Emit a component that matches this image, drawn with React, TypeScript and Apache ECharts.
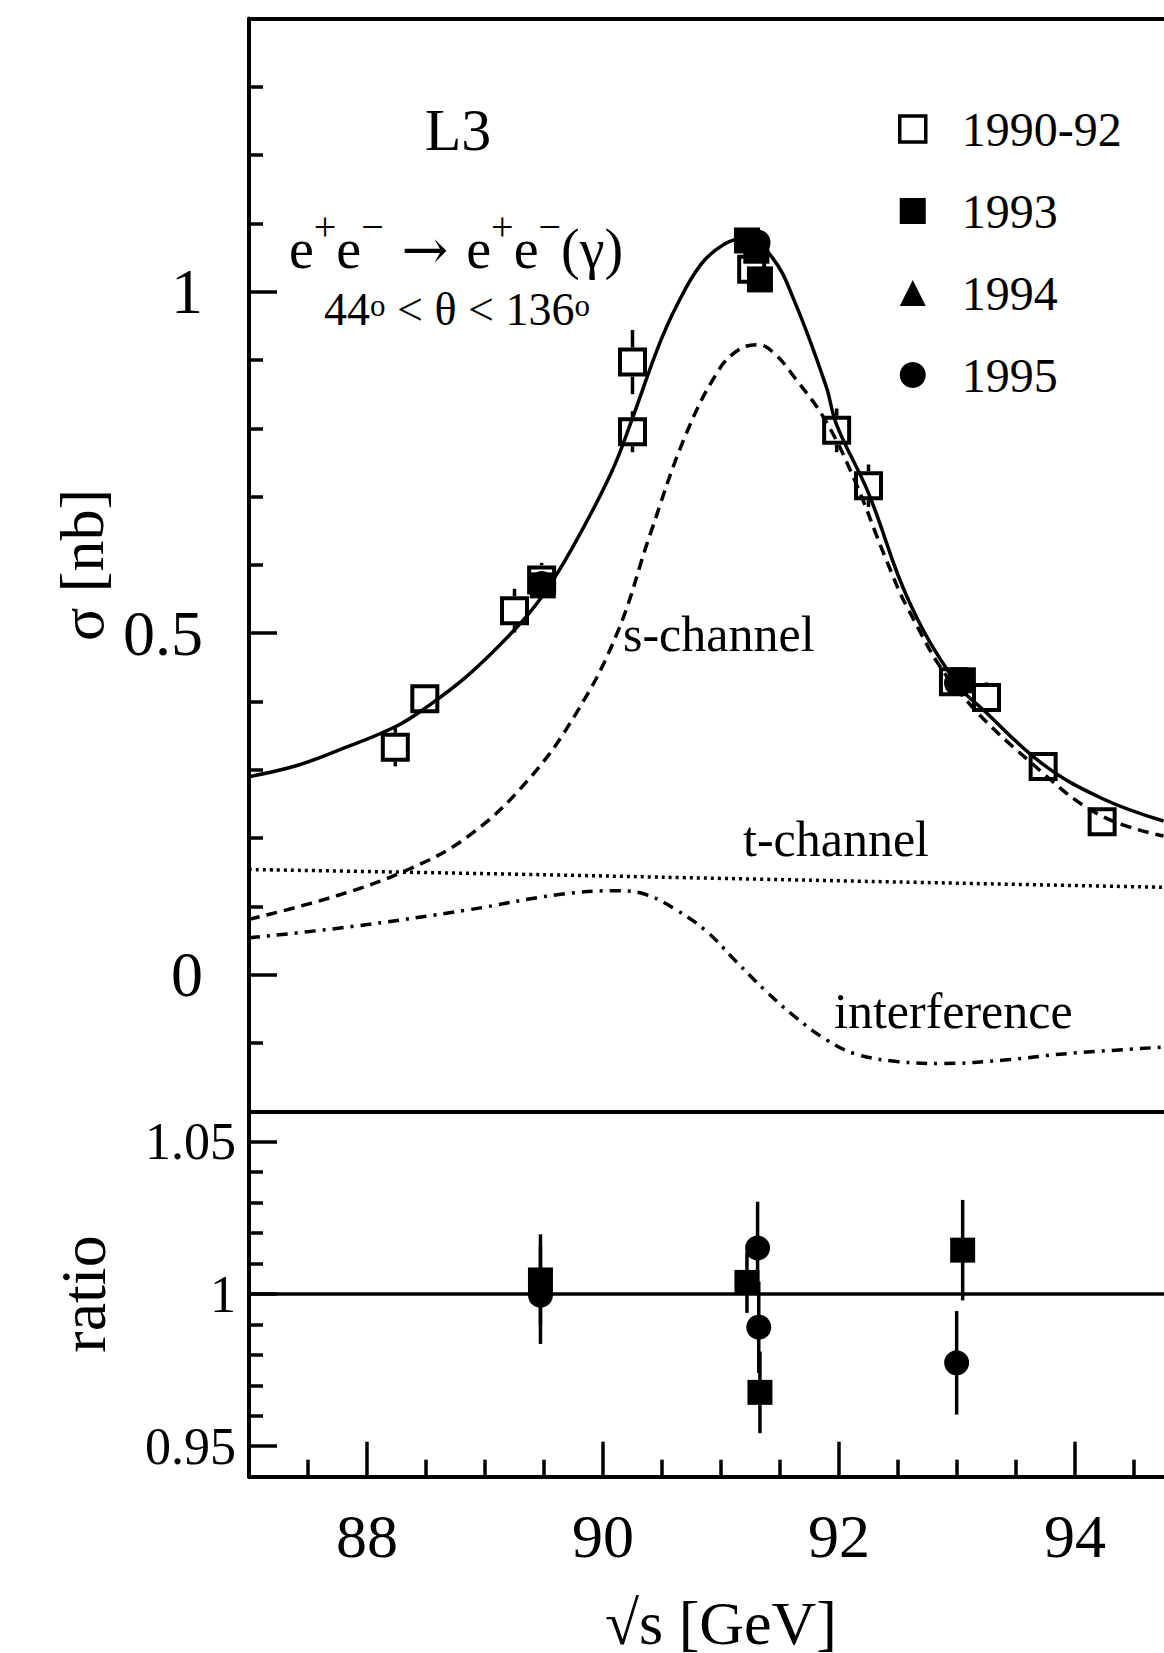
import React, { useEffect, useRef } from "react";
import * as echarts from "echarts";

const FONT = "'Liberation Serif', 'Times New Roman', 'DejaVu Serif', serif";

const xRange = [87, 95];
const sigmaRange = [-0.2, 1.4];
const ratioRange = [0.94, 1.06];

const xMajorTicks = [88, 90, 92, 94];
const xMinorTicks = [87.5, 88.5, 89, 89.5, 90.5, 91, 91.5, 92.5, 93, 93.5, 94.5];
const sigmaMajorTicks = [0, 0.5, 1];
const sigmaMinorTicks = [-0.1, 0.1, 0.2, 0.3, 0.4, 0.6, 0.7, 0.8, 0.9, 1.1, 1.2, 1.3];
const ratioMajorTicks = [0.95, 1, 1.05];
const ratioMinorTicks = [0.96, 0.97, 0.98, 0.99, 1.01, 1.02, 1.03, 1.04];

// theory curves: [sqrt(s) GeV, sigma nb]
const totalFit = [
  [87.0, 0.29], [87.4, 0.306], [87.75, 0.328], [88.24, 0.363], [88.49, 0.39],
  [88.86, 0.439], [89.25, 0.505], [89.48, 0.553], [89.74, 0.625], [90.07, 0.735],
  [90.25, 0.815], [90.47, 0.92], [90.62, 0.978], [90.83, 1.04], [91.03, 1.07],
  [91.2, 1.078], [91.43, 1.051], [91.63, 0.983], [91.89, 0.862], [91.98, 0.805],
  [92.25, 0.705], [92.59, 0.548], [92.99, 0.428], [93.24, 0.385], [93.73, 0.308],
  [94.23, 0.258], [94.75, 0.225],
];
const sChannel = [
  [87.0, 0.081], [87.75, 0.116], [88.35, 0.154], [88.86, 0.203], [89.36, 0.284],
  [89.77, 0.382], [90.12, 0.5], [90.4, 0.645], [90.7, 0.79], [90.98, 0.885],
  [91.15, 0.915], [91.31, 0.9225], [91.45, 0.91], [91.63, 0.873], [91.89, 0.81],
  [92.14, 0.721], [92.39, 0.612], [92.59, 0.534], [92.99, 0.42], [93.73, 0.295],
  [94.23, 0.232], [94.75, 0.203],
];
const tChannel = [
  [87.0, 0.154], [89.0, 0.148], [91.0, 0.141], [93.0, 0.134], [94.75, 0.128],
];
const interference = [
  [87.0, 0.054], [87.85, 0.07], [88.86, 0.095], [89.61, 0.117], [90.12, 0.123],
  [90.37, 0.117], [90.62, 0.095], [90.88, 0.063], [91.13, 0.019], [91.38, -0.024],
  [91.63, -0.062], [91.89, -0.095], [92.14, -0.116], [92.49, -0.127], [92.89, -0.13],
  [93.4, -0.125], [93.9, -0.116], [94.75, -0.106],
];

// measurements: [sqrt(s), sigma, error]
const data1990_92 = [
  [88.24, 0.333, 0.028], [88.49, 0.404, 0.012], [89.25, 0.533, 0.032],
  [89.48, 0.578, 0.025], [90.25, 0.897, 0.047], [90.25, 0.795, 0.03],
  [91.26, 1.033, 0.012], [91.98, 0.797, 0.032], [92.25, 0.716, 0.031],
  [92.97, 0.429, 0.01], [93.25, 0.406, 0.022], [93.73, 0.305, 0.01],
  [94.23, 0.224, 0.01],
];
const data1993 = [
  [89.49, 0.57, 0.01], [91.22, 1.075, 0.01], [91.3, 1.06, 0.01],
  [91.33, 1.018, 0.01], [93.05, 0.431, 0.01],
];
const data1994 = [[91.29, 1.06, 0.008]];
const data1995 = [[89.48, 0.572, 0.01], [91.31, 1.072, 0.01], [93.0, 0.427, 0.01]];

// ratio panel: [sqrt(s), ratio, error]
const ratio1993 = [
  [89.47, 1.0046, 0.015], [91.22, 1.0038, 0.01], [91.33, 0.9677, 0.0134], [93.048, 1.0144, 0.0165],
];
const ratio1995 = [
  [89.47, 0.9996, 0.016], [91.31, 1.0151, 0.0152], [91.32, 0.9891, 0.015], [92.997, 0.9774, 0.017],
];

const legendNames = ["1990-92", "1993", "1994", "1995"];

const BLACK = "#000";

function errorBars(data: number[][], xi: number, yi: number, gap: number) {
  return {
    type: "custom",
    xAxisIndex: xi,
    yAxisIndex: yi,
    data,
    silent: true,
    z: 3,
    encode: { x: 0, y: 1 },
    renderItem: (_params: any, api: any) => {
      const x = api.value(0);
      const y = api.value(1);
      const e = api.value(2);
      const c = api.coord([x, y]);
      const top = api.coord([x, y + e]);
      const bot = api.coord([x, y - e]);
      const style = { stroke: BLACK, lineWidth: 3.5 };
      const children: any[] = [];
      if (c[1] - gap > top[1]) {
        children.push({ type: "line", shape: { x1: c[0], y1: top[1], x2: c[0], y2: c[1] - gap }, style });
      }
      if (bot[1] > c[1] + gap) {
        children.push({ type: "line", shape: { x1: c[0], y1: c[1] + gap, x2: c[0], y2: bot[1] }, style });
      }
      return { type: "group", children };
    },
  };
}

function curve(data: number[][], type: any, width: number) {
  return {
    type: "line",
    xAxisIndex: 0,
    yAxisIndex: 0,
    data,
    showSymbol: false,
    symbol: "none",
    smooth: 0.4,
    silent: true,
    z: 2,
    lineStyle: { color: BLACK, width, type },
  };
}

const axisLine = { show: true, onZero: false, lineStyle: { color: BLACK, width: 4 } };

const textCenter = { align: "center", verticalAlign: "middle", textAlign: "center", textVerticalAlign: "middle" };
const textLeft = { align: "left", verticalAlign: "middle", textAlign: "left", textVerticalAlign: "middle" };

function App() {
  const ref = useRef<HTMLDivElement>(null);
  useEffect(() => {
    if (!ref.current) return;
    const chart = echarts.init(ref.current, null, { renderer: "svg" });
    const baseX = {
      type: "value",
      min: xRange[0],
      max: xRange[1],
      splitLine: { show: false },
      axisLabel: { show: false },
      axisTick: { show: false },
    };
    const option: any = {
      animation: false,
      backgroundColor: "#fff",
      grid: [
        { left: 249, top: 18.5, right: -29, height: 1092.8, outerBoundsMode: "none", containLabel: false },
        { left: 249, top: 1111.3, right: -29, height: 365.4, outerBoundsMode: "none", containLabel: false },
      ],
      xAxis: [
        { ...baseX, gridIndex: 0, position: "bottom", axisLine },
        { ...baseX, gridIndex: 0, position: "top", axisLine },
        {
          ...baseX,
          gridIndex: 1,
          position: "bottom",
          axisLine,
          axisTick: { show: true, inside: true, length: 35, lineStyle: { color: BLACK, width: 3.5 }, customValues: xMajorTicks },
          axisLabel: { show: true, customValues: xMajorTicks, fontSize: 62, fontFamily: FONT, color: BLACK, margin: 28 },
          name: "√s [GeV]",
          nameLocation: "middle",
          nameGap: 115,
          nameMoveOverlap: false,
          nameTextStyle: { fontSize: 62, fontFamily: FONT, color: BLACK },
        },
        {
          ...baseX,
          gridIndex: 1,
          position: "bottom",
          axisLine: { show: false, onZero: false },
          axisTick: { show: true, inside: true, length: 17, lineStyle: { color: BLACK, width: 3.5 }, customValues: xMinorTicks },
        },
      ],
      yAxis: [
        {
          type: "value",
          gridIndex: 0,
          min: sigmaRange[0],
          max: sigmaRange[1],
          position: "left",
          axisLine,
          splitLine: { show: false },
          axisTick: { show: true, inside: true, length: 28, lineStyle: { color: BLACK, width: 3.5 }, customValues: sigmaMajorTicks },
          axisLabel: { show: true, customValues: sigmaMajorTicks, fontSize: 64, fontFamily: FONT, color: BLACK, margin: 46 },
        },
        {
          type: "value",
          gridIndex: 0,
          min: sigmaRange[0],
          max: sigmaRange[1],
          position: "left",
          axisLine: { show: false, onZero: false },
          splitLine: { show: false },
          axisLabel: { show: false },
          axisTick: { show: true, inside: true, length: 14, lineStyle: { color: BLACK, width: 3.5 }, customValues: sigmaMinorTicks },
        },
        {
          type: "value",
          gridIndex: 1,
          min: ratioRange[0],
          max: ratioRange[1],
          position: "left",
          axisLine,
          splitLine: { show: false },
          axisTick: { show: true, inside: true, length: 28, lineStyle: { color: BLACK, width: 3.5 }, customValues: ratioMajorTicks },
          axisLabel: { show: true, customValues: ratioMajorTicks, fontSize: 52, fontFamily: FONT, color: BLACK, margin: 13 },
        },
        {
          type: "value",
          gridIndex: 1,
          min: ratioRange[0],
          max: ratioRange[1],
          position: "left",
          axisLine: { show: false, onZero: false },
          splitLine: { show: false },
          axisLabel: { show: false },
          axisTick: { show: true, inside: true, length: 14, lineStyle: { color: BLACK, width: 3.5 }, customValues: ratioMinorTicks },
        },
      ],
      legend: {
        orient: "vertical",
        left: 898,
        top: 104,
        padding: 0,
        itemGap: 32,
        itemWidth: 26,
        itemHeight: 26,
        selectedMode: false,
        textStyle: { fontSize: 48, fontFamily: FONT, color: BLACK, lineHeight: 50, padding: [0, 0, 0, 31] },
        data: [
          { name: legendNames[0], icon: "rect", itemStyle: { color: "rgba(0,0,0,0)", borderColor: BLACK, borderWidth: 3.5 } },
          { name: legendNames[1], icon: "rect", itemStyle: { color: BLACK, borderWidth: 0 } },
          { name: legendNames[2], icon: "triangle", itemStyle: { color: BLACK, borderWidth: 0 } },
          { name: legendNames[3], icon: "circle", itemStyle: { color: BLACK, borderWidth: 0 } },
        ],
      },
      graphic: [
        { type: "text", x: 458, y: 130, style: { text: "L3", fontSize: 60, fontFamily: FONT, fill: BLACK, ...textCenter } },
        {
          type: "text",
          x: 456,
          y: 249,
          style: {
            text: "{m|e}{s|+}{m|e}{s|−}{a| → }{m|e}{s|+}{m|e}{s|−}{m|(γ)}",
            ...textCenter,
            fill: BLACK,
            rich: {
              m: { fontSize: 56, fontFamily: FONT, fill: BLACK, lineHeight: 86 },
              a: { fontSize: 56, fontFamily: "'DejaVu Serif', serif", fill: BLACK },
              s: { fontSize: 40, fontFamily: FONT, fill: BLACK, lineHeight: 40, verticalAlign: "top" },
            },
          },
        },
        {
          type: "text",
          x: 457,
          y: 309.5,
          style: {
            text: "{m|44}{s|o}{m| < θ < 136}{s|o}",
            ...textCenter,
            fill: BLACK,
            rich: {
              m: { fontSize: 46, fontFamily: FONT, fill: BLACK, lineHeight: 40 },
              s: { fontSize: 31, fontFamily: FONT, fill: BLACK, lineHeight: 30, verticalAlign: "top" },
            },
          },
        },
        { type: "text", x: 623, y: 634, style: { text: "s-channel", fontSize: 50, fontFamily: FONT, fill: BLACK, ...textLeft } },
        { type: "text", x: 743, y: 839, style: { text: "t-channel", fontSize: 50, fontFamily: FONT, fill: BLACK, ...textLeft } },
        { type: "text", x: 834, y: 1011, style: { text: "interference", fontSize: 50, fontFamily: FONT, fill: BLACK, ...textLeft } },
        { type: "text", x: 82, y: 565, rotation: Math.PI / 2, style: { text: "σ [nb]", fontSize: 62, fontFamily: FONT, fill: BLACK, ...textCenter } },
        { type: "text", x: 83, y: 1294, rotation: Math.PI / 2, style: { text: "ratio", fontSize: 64, fontFamily: FONT, fill: BLACK, ...textCenter } },
      ],
      series: [
        curve(totalFit, "solid", 3.5),
        curve(sChannel, [11, 7], 3.5),
        curve(tChannel, [3, 4], 3.5),
        curve(interference, [11, 7, 3, 7], 3.5),
        errorBars(data1990_92, 0, 0, 14.5),
        errorBars(data1993, 0, 0, 0),
        errorBars(data1995, 0, 0, 0),
        errorBars(ratio1993, 2, 2, 0),
        errorBars(ratio1995, 2, 2, 0),
        {
          type: "scatter",
          name: legendNames[2],
          xAxisIndex: 0,
          yAxisIndex: 0,
          data: data1994,
          symbol: "triangle",
          symbolSize: 24,
          z: 4,
          itemStyle: { color: BLACK, opacity: 1 },
        },
        {
          type: "scatter",
          name: legendNames[0],
          xAxisIndex: 0,
          yAxisIndex: 0,
          data: data1990_92,
          symbol: "rect",
          symbolSize: 25,
          z: 4,
          itemStyle: { color: "rgba(0,0,0,0)", borderColor: BLACK, borderWidth: 4, opacity: 1 },
        },
        {
          type: "scatter",
          name: legendNames[1],
          xAxisIndex: 0,
          yAxisIndex: 0,
          data: data1993,
          symbol: "rect",
          symbolSize: 26,
          z: 5,
          itemStyle: { color: BLACK, opacity: 1 },
        },
        {
          type: "scatter",
          name: legendNames[3],
          xAxisIndex: 0,
          yAxisIndex: 0,
          data: data1995,
          symbol: "circle",
          symbolSize: 26,
          z: 5,
          itemStyle: { color: BLACK, opacity: 1 },
        },
        {
          type: "scatter",
          name: legendNames[1],
          xAxisIndex: 2,
          yAxisIndex: 2,
          data: ratio1993,
          symbol: "rect",
          symbolSize: 25,
          z: 5,
          itemStyle: { color: BLACK, opacity: 1 },
          markLine: {
            silent: true,
            symbol: ["none", "none"],
            label: { show: false },
            lineStyle: { color: BLACK, width: 3.5, type: "solid" },
            data: [{ yAxis: 1 }],
          },
        },
        {
          type: "scatter",
          name: legendNames[3],
          xAxisIndex: 2,
          yAxisIndex: 2,
          data: ratio1995,
          symbol: "circle",
          symbolSize: 25,
          z: 5,
          itemStyle: { color: BLACK, opacity: 1 },
        },
      ],
    };
    chart.setOption(option);
    return () => chart.dispose();
  }, []);
  return (
    <div
      ref={ref}
      style={{ position: "absolute", left: 0, top: 0, width: 1164, height: 1653, background: "#fff" }}
    />
  );
}

export default App;
